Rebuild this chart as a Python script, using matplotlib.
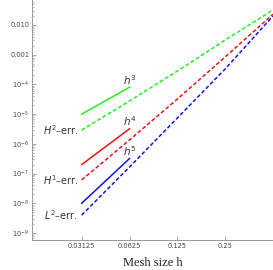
import numpy as np
import matplotlib
matplotlib.use('Agg')
import matplotlib.pyplot as plt
from matplotlib.ticker import LogLocator, NullFormatter, FixedLocator, FixedFormatter

plt.rcParams['mathtext.fontset'] = 'dejavusans'

# mesh sizes and errors
h = [0.03125, 0.0625, 0.125, 0.25, 0.5]
err_H2 = [2.9e-6, 2.77e-5, 2.8e-4, 3.1e-3, 0.032]
err_H1 = [6.1e-8, 1.35e-6, 3.2e-5, 8.4e-4, 0.023]
err_L2 = [4.0e-9, 1.66e-7, 7.4e-6, 3.3e-4, 0.020]

# reference slopes (start value at h = 1/32)
h_ref = [0.03125, 0.0625]
ref_h3 = [1e-5, 8e-5]
ref_h4 = [2e-7, 3.2e-6]
ref_h5 = [1e-8, 3.2e-7]

xticks = [0.03125, 0.0625, 0.125, 0.25]
xtick_labels = ['0.03125', '0.0625', '0.125', '0.25']
ytick_vals = [1e-9, 1e-8, 1e-7, 1e-6, 1e-5, 1e-4, 1e-3, 1e-2]
ytick_labels = [r'$10^{-9}$', r'$10^{-8}$', r'$10^{-7}$', r'$10^{-6}$',
                r'$10^{-5}$', r'$10^{-4}$', '0.001', '0.010']

fig = plt.figure(figsize=(2.73, 2.70), dpi=100)
ax = fig.add_axes([0.117, 0.111, 0.883, 0.889])

green = '#22ee22'
red = '#ee1111'
blue = '#1111ee'

ax.loglog(h_ref, ref_h3, color=green, lw=1.1)
ax.loglog(h_ref, ref_h4, color=red, lw=1.1)
ax.loglog(h_ref, ref_h5, color=blue, lw=1.1)
ax.loglog(h, err_H2, color=green, lw=1.1, ls=(0, (2.5, 1.5)))
ax.loglog(h, err_H1, color=red, lw=1.1, ls=(0, (2.5, 1.5)))
ax.loglog(h, err_L2, color=blue, lw=1.1, ls=(0, (2.5, 1.5)))

ax.set_xlim(0.0152, 0.5)
ax.set_ylim(5.8e-10, 0.069)

# slope labels
ax.text(h_ref[1], ref_h3[1] * 1.05, r'$h^3$', ha='center', va='bottom', fontsize=7.5, color='#333333')
ax.text(h_ref[1], ref_h4[1] * 1.05, r'$h^4$', ha='center', va='bottom', fontsize=7.5, color='#333333')
ax.text(h_ref[1], ref_h5[1] * 1.05, r'$h^5$', ha='center', va='bottom', fontsize=7.5, color='#333333')

# error labels
ax.text(0.0297, err_H2[0], r'$H^2$–err.', ha='right', va='center', fontsize=7, color='#333333')
ax.text(0.0297, err_H1[0], r'$H^1$–err.', ha='right', va='center', fontsize=7, color='#333333')
ax.text(0.0297, err_L2[0], r'$L^2$–err.', ha='right', va='center', fontsize=7, color='#333333')

ax.xaxis.set_major_locator(FixedLocator(xticks))
ax.xaxis.set_major_formatter(FixedFormatter(xtick_labels))
ax.xaxis.set_minor_locator(FixedLocator([]))
ax.yaxis.set_major_locator(FixedLocator(ytick_vals))
ax.yaxis.set_major_formatter(FixedFormatter(ytick_labels))
ax.yaxis.set_minor_locator(LogLocator(base=10, subs=np.arange(2, 10), numticks=20))
ax.yaxis.set_minor_formatter(NullFormatter())

ax.tick_params(which='major', direction='in', length=3, width=0.6, color='#999999',
               labelsize=4.8, labelcolor='#444444', pad=2)
ax.tick_params(which='minor', direction='in', length=1.5, width=0.5, color='#999999')

for side in ['top', 'right']:
    ax.spines[side].set_visible(False)
for side in ['left', 'bottom']:
    ax.spines[side].set_color('#999999')
    ax.spines[side].set_linewidth(0.7)

ax.set_xlabel('Mesh size h', family='Liberation Serif', fontsize=9, color='#222222', labelpad=6)

fig.savefig('out.png', dpi=100)
